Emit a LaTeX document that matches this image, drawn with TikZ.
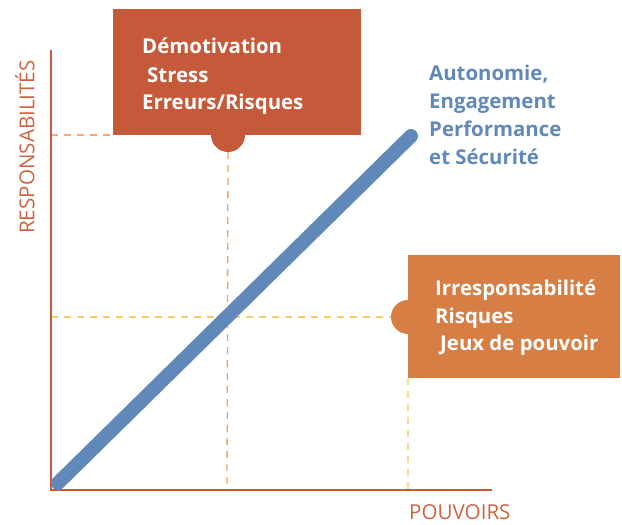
\documentclass[tikz,border=0pt]{standalone}
\usepackage{fontspec}
\setmainfont{Open Sans}
\definecolor{axisc}{RGB}{200,90,55}
\definecolor{topbox}{RGB}{197,90,58}
\definecolor{rightbox}{RGB}{214,126,68}
\definecolor{blueline}{RGB}{96,137,186}
\definecolor{dashA}{RGB}{244,168,120}
\definecolor{dashB}{RGB}{240,160,96}
\definecolor{dashC}{RGB}{251,203,106}
\definecolor{dashD}{RGB}{251,217,138}
\definecolor{labelc}{RGB}{205,100,65}
\begin{document}
\begin{tikzpicture}[x=1pt,y=-1pt,
  guide/.style={line width=1.3pt,dash pattern=on 7pt off 6pt},
  axisline/.style={line width=2.6pt,draw=axisc},
  boxtext/.style={anchor=base west,inner sep=0pt,text=white,font=\fontsize{20.4}{24}\selectfont\bfseries},
  bluetext/.style={anchor=base west,inner sep=0pt,text=blueline,font=\fontsize{20.4}{24}\selectfont\bfseries},
  axislabel/.style={inner sep=0pt,text=labelc,font=\fontsize{20.6}{24}\selectfont}]
\useasboundingbox (0,0) rectangle (622,525);
% coordinates
\coordinate (O) at (51,490);
\coordinate (Ytop) at (51,50);
\coordinate (Xend) at (492,490);
\coordinate (hA) at (51,135);
\coordinate (hB) at (51,317);
\coordinate (vA) at (227,490);
\coordinate (vB) at (408,490);
\coordinate (L0) at (58,483);
\coordinate (L1) at (411,136);
% boxes
\fill[topbox] (113,9) rectangle (361,135);
\fill[topbox] (228,135) circle (17);
\coordinate (topbump) at (228,152);
\fill[rightbox] (408,255) rectangle (620,378);
\fill[rightbox] (408,317) circle (17);
\coordinate (rightbump) at (391,317);
\coordinate (rightbot) at (408,378);
% guides
\draw[guide,draw=dashA] (hA) -- (113,135);
\draw[guide,draw=dashB] (topbump) -- (vA);
\draw[guide,draw=dashC] (hB) -- (rightbump);
\draw[guide,draw=dashD] (rightbot) -- (vB);
% axes
\draw[axisline] (Ytop) -- (O) -- (Xend);
% blue line
\draw[line width=14pt,draw=blueline,line cap=round] (L0) -- (L1);
% texts
\node[boxtext] (t1) at (142,53) {Démotivation};
\node[boxtext] (t2) at (147,82) {Stress};
\node[boxtext] (t3) at (142,109) {Erreurs/Risques};
\node[boxtext] (r1) at (435,295) {Irresponsabilité};
\node[boxtext] (r2) at (435,323) {Risques};
\node[boxtext] (r3) at (440,350) {Jeux de pouvoir};
\node[bluetext] (b1) at (429,80) {Autonomie,};
\node[bluetext] (b2) at (429,108) {Engagement};
\node[bluetext] (b3) at (429,136) {Performance};
\node[bluetext] (b4) at (429,164) {et Sécurité};
\node[axislabel,rotate=90] (ylab) at (25,147) {RESPONSABILITÉS};
\node[axislabel,anchor=base west] (xlab) at (409,519) {POUVOIRS};
\end{tikzpicture}
\end{document}
